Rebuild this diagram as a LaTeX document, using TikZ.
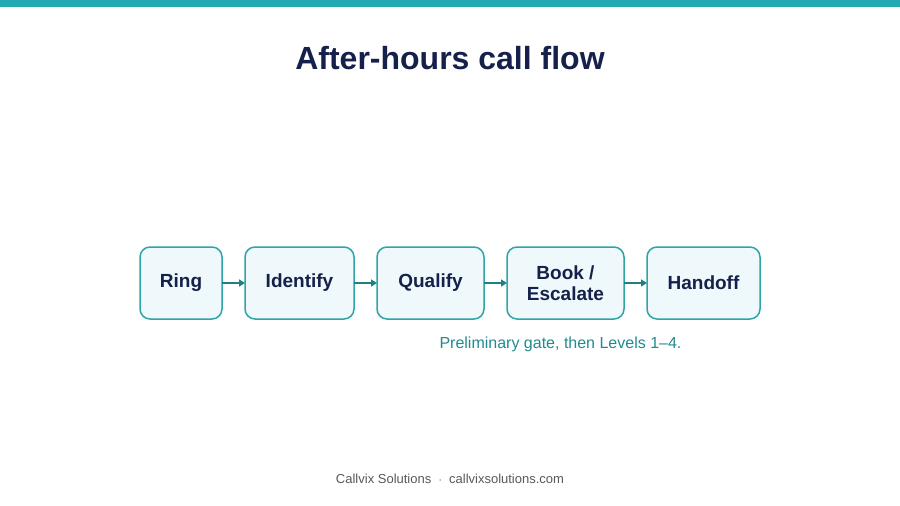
\documentclass[tikz,border=0pt]{standalone}
\usepackage{fontspec}
\setmainfont{Liberation Sans}
\usetikzlibrary{arrows.meta}
\definecolor{teal}{HTML}{22A9B1}
\definecolor{bord}{HTML}{2EA5A8}
\definecolor{boxf}{HTML}{EFF8FA}
\definecolor{navy}{HTML}{15204B}
\definecolor{cap}{HTML}{1F8C90}
\definecolor{arr}{HTML}{1E7F85}
\begin{document}
\begin{tikzpicture}[x=1pt,y=-1pt,
 box/.style={draw=bord,line width=1.5pt,fill=boxf,rounded corners=10pt,inner sep=0pt},
 lab/.style={text=navy,font=\bfseries\fontsize{19}{21}\selectfont,align=center},
 ar/.style={arr,line width=1.5pt,-{Triangle[length=6pt,width=7pt]}}]
\useasboundingbox[fill=white] (0,0) rectangle (900,506);
\fill[teal] (0,0) rectangle (900,7);
\node[text=navy,font=\bfseries\fontsize{32}{36}\selectfont] (title) at (450,58) {After-hours call flow};
\foreach \n/\a/\b/\t in {r/140/222/Ring,i/245/354/Identify,q/377/484/Qualify,b/507/624/{Book /\\Escalate},h/647/760/Handoff}{
  \draw[box] (\a,247) rectangle (\b,319);
  \node[lab] (\n) at ({(\a+\b)/2},283) {\t};
  \coordinate (\n L) at (\a,283);
  \coordinate (\n R) at (\b,283);
}
\draw[ar] (rR) -- (iL);
\draw[ar] (iR) -- (qL);
\draw[ar] (qR) -- (bL);
\draw[ar] (bR) -- (hL);
\node[text=cap,font=\fontsize{16}{18}\selectfont,anchor=west] (capt) at (436,344) {Preliminary gate, then Levels 1–4.};
\node[text=black!65,font=\fontsize{13}{15}\selectfont] (foot) at (450,479) {Callvix Solutions \ $\cdot$ \ callvixsolutions.com};
\end{tikzpicture}
\end{document}
